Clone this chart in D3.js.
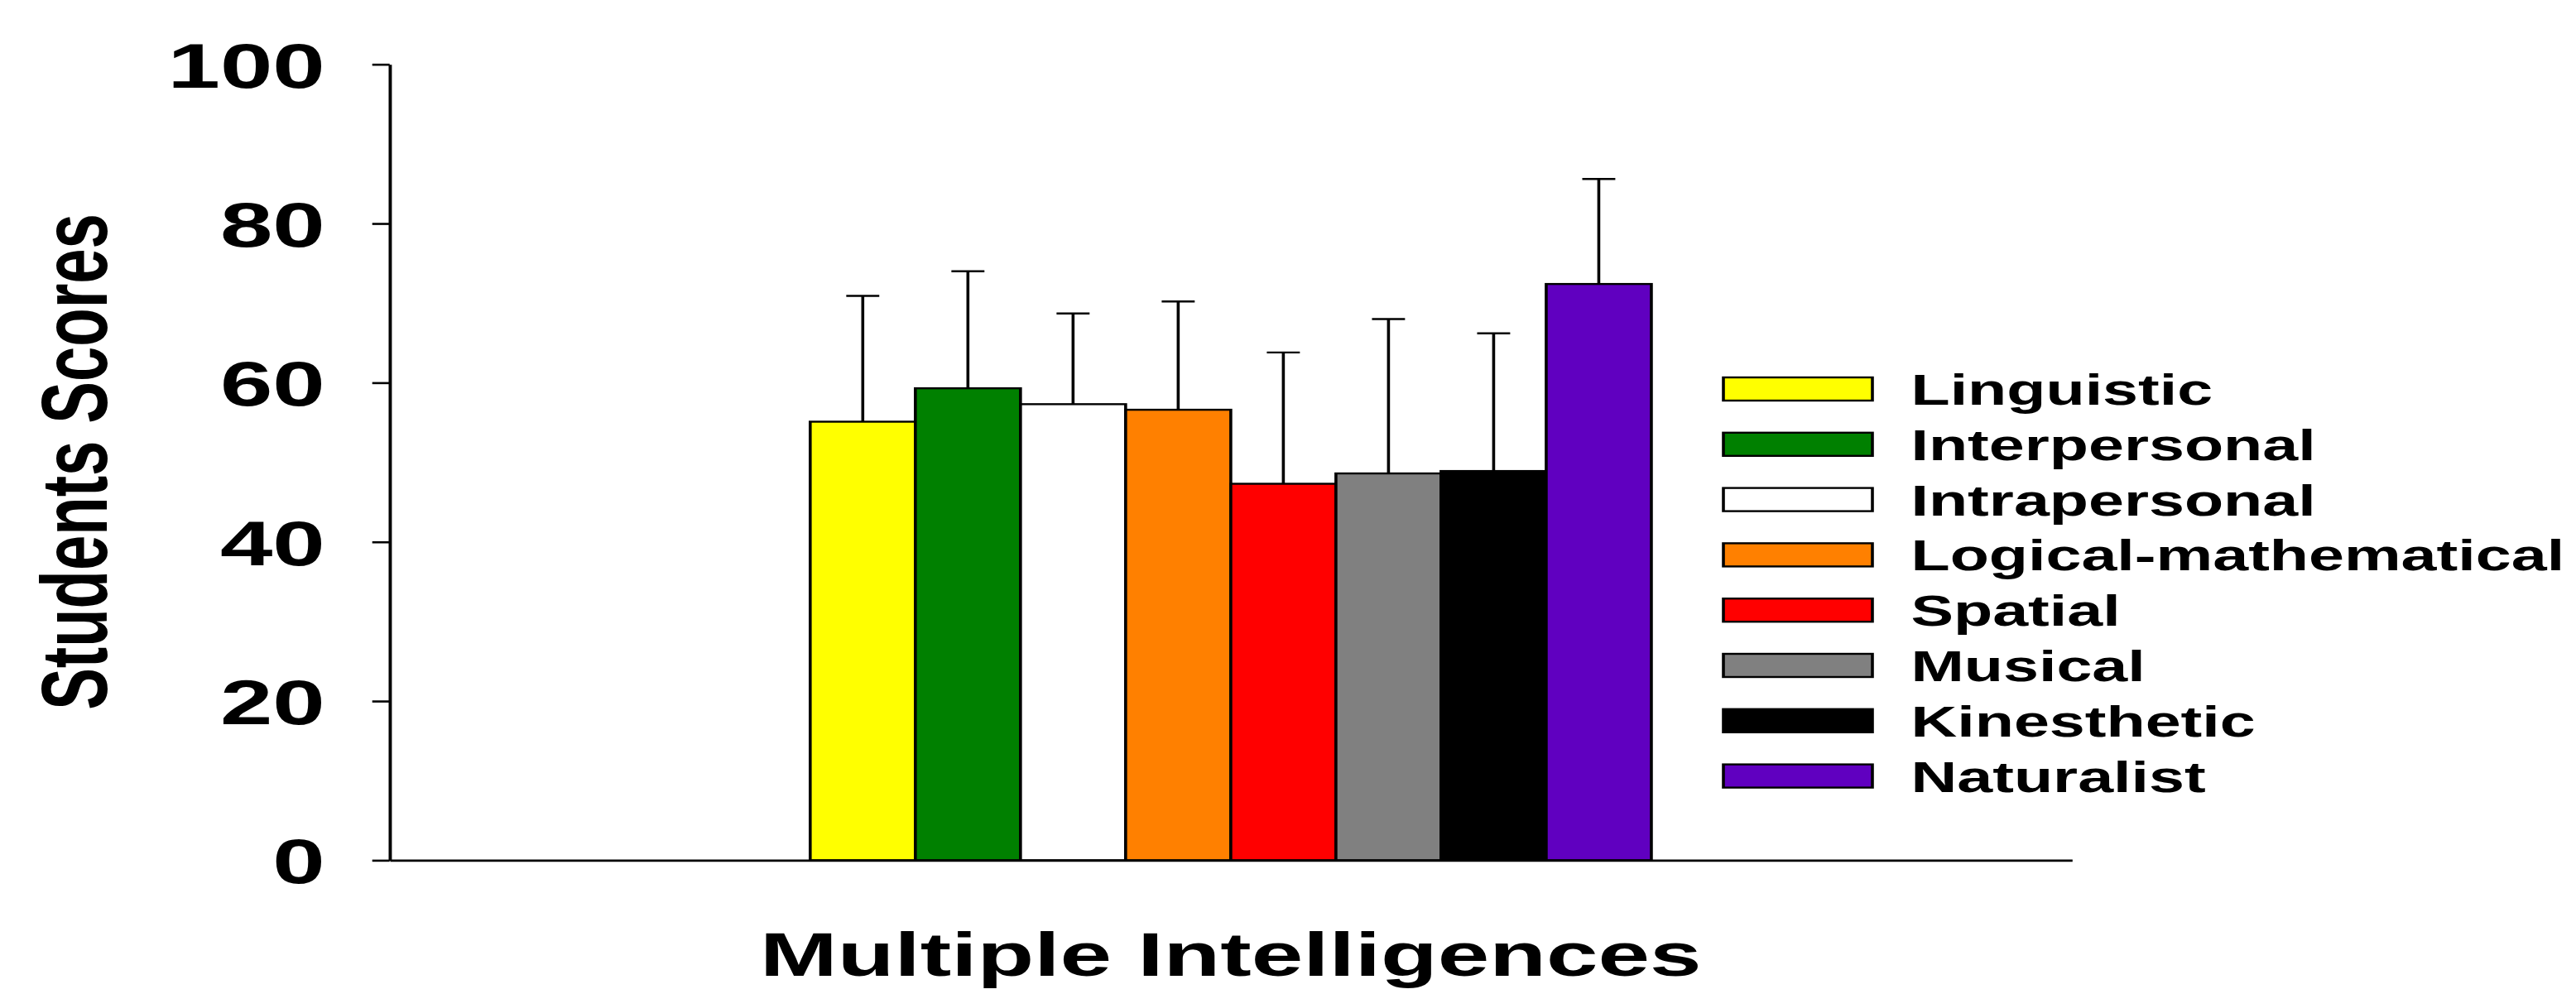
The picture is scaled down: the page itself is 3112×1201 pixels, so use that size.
<!DOCTYPE html>
<html>
<head>
<meta charset="utf-8">
<script src="https://cdn.jsdelivr.net/npm/d3@7"></script>
<style>
  body { margin: 0; background: #fff; }
  text { font-family: "Liberation Sans", Arial, sans-serif; font-weight: bold; fill: #000; }
</style>
</head>
<body>
<script>
// data
const groups = ["Multiple Intelligences"];
const categories = ["Linguistic", "Interpersonal", "Intrapersonal", "Logical-mathematical",
                    "Spatial", "Musical", "Kinesthetic", "Naturalist"];
const means = [55.1, 59.3, 57.3, 56.6, 47.3, 48.6, 48.9, 72.4];
const sds   = [15.8, 14.7, 11.4, 13.6, 16.5, 19.4, 17.3, 13.2];
const colors = ["#ffff00", "#008000", "#ffffff", "#ff8000", "#ff0000", "#808080", "#000000", "#6000c0"];
const yTicks = [0, 20, 40, 60, 80, 100];

// the figure is stretched sideways, so draw in narrow units and scale x
var width = 3112, height = 1201, sx = 1.5;

var svg = d3.select("body").append("svg")
            .attr("width", width)
            .attr("height", height);
var g = svg.append("g").attr("transform", "scale(" + sx + ",1)");

var left = 313.8, right = 1668.7;
var y = d3.scaleLinear().domain([0, 100]).range([1039.4, 77.7]);
var x0 = d3.scaleBand().domain(groups).range([left, right]).paddingInner(0).paddingOuter(0.5);
var x1 = d3.scaleBand().domain(categories).range([0, x0.bandwidth()]);

// y axis
var yAxis = g.append("g")
    .attr("transform", "translate(" + left + ",0)")
    .call(d3.axisLeft(y).tickValues(yTicks).tickSize(14).tickSizeOuter(0).tickPadding(38));
yAxis.selectAll("path, line").attr("stroke", "#000").attr("stroke-width", 2.6);
yAxis.selectAll("text")
     .attr("font-size", 76)
     .attr("dy", "0.36em")
     .style("font-family", "'Liberation Sans', Arial, sans-serif")
     .style("font-weight", "bold");

// bars
var bars = g.append("g").selectAll("g")
    .data(categories)
    .enter().append("g")
    .attr("transform", function (d) { return "translate(" + (x0(groups[0]) + x1(d)) + ",0)"; });

// error bars (upper only)
bars.append("line")
    .attr("x1", x1.bandwidth() / 2).attr("x2", x1.bandwidth() / 2)
    .attr("y1", function (d, i) { return y(means[i]); })
    .attr("y2", function (d, i) { return y(means[i] + sds[i]); })
    .attr("stroke", "#000").attr("stroke-width", 2.4);
bars.append("line")
    .attr("x1", x1.bandwidth() / 2 - 13.3).attr("x2", x1.bandwidth() / 2 + 13.3)
    .attr("y1", function (d, i) { return y(means[i] + sds[i]); })
    .attr("y2", function (d, i) { return y(means[i] + sds[i]); })
    .attr("stroke", "#000").attr("stroke-width", 2.4);

bars.append("rect")
    .attr("x", 0)
    .attr("width", x1.bandwidth())
    .attr("y", function (d, i) { return y(means[i]); })
    .attr("height", function (d, i) { return y(0) - y(means[i]); })
    .attr("fill", function (d, i) { return colors[i]; })
    .attr("stroke", "#000").attr("stroke-width", 2.4);

// x axis (no ticks)
var xAxis = g.append("g")
    .attr("transform", "translate(0," + y(0) + ")")
    .call(d3.axisBottom(x0).tickSize(0).tickSizeOuter(0).tickFormat(""));
xAxis.select(".domain").attr("stroke", "#000").attr("stroke-width", 2.6);

// axis titles
g.append("text")
    .attr("x", (left + right) / 2)
    .attr("y", 1179)
    .attr("text-anchor", "middle")
    .attr("font-size", 75)
    .text(groups[0]);

g.append("text")
    .attr("transform", "translate(86.3,558) rotate(-90)")
    .attr("text-anchor", "middle")
    .attr("font-size", 76)
    .text("Students Scores");

// legend
var legend = g.append("g").selectAll("g")
    .data(categories)
    .enter().append("g")
    .attr("transform", function (d, i) { return "translate(1388," + (456 + i * 66.8) + ")"; });
legend.append("rect")
    .attr("width", 120).attr("height", 28)
    .attr("fill", function (d, i) { return colors[i]; })
    .attr("stroke", "#000").attr("stroke-width", 2.4);
legend.append("text")
    .attr("x", 151)
    .attr("y", 33)
    .attr("font-size", 51.5)
    .text(function (d) { return d; });
</script>
</body>
</html>
